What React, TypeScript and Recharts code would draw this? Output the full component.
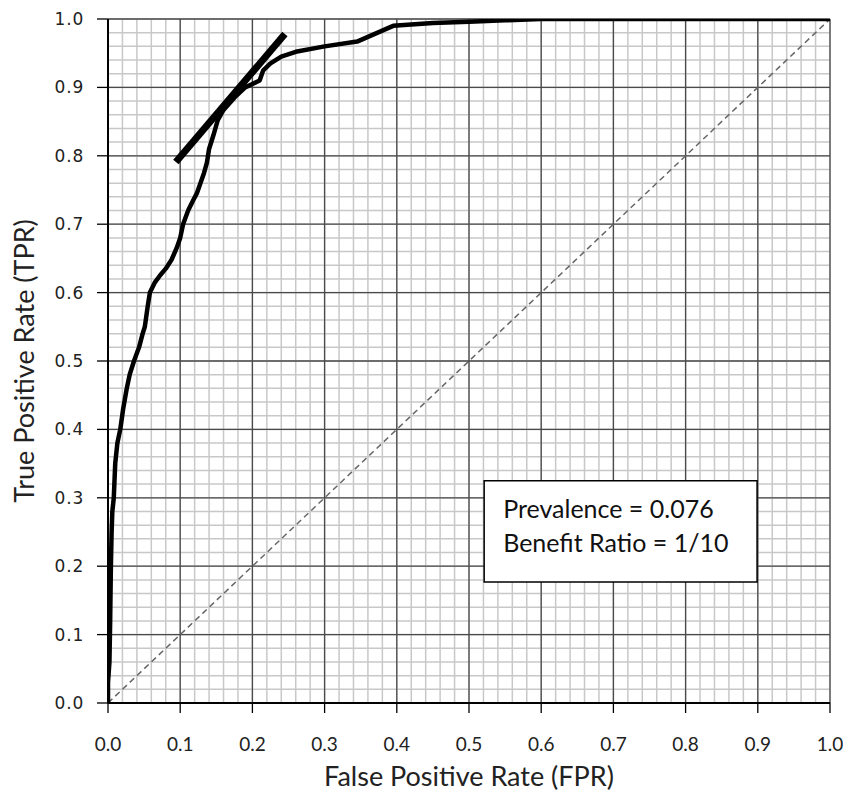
import React from 'react';
import {
  ComposedChart,
  Line,
  XAxis,
  YAxis,
  CartesianGrid,
  ReferenceArea,
} from 'recharts';

// ROC curve
const fpr = [
  0, 0.0, 0.002, 0.003, 0.004, 0.005, 0.006, 0.008, 0.01, 0.013, 0.017, 0.021, 0.026, 0.03,
  0.036, 0.043, 0.048, 0.051, 0.055, 0.058, 0.065, 0.072, 0.08, 0.088, 0.095, 0.1, 0.104,
  0.111, 0.118, 0.123, 0.128, 0.133, 0.137, 0.14, 0.146, 0.152, 0.16, 0.175, 0.19, 0.2, 0.21,
  0.215, 0.225, 0.24, 0.26, 0.3, 0.345, 0.395, 0.45, 0.5, 0.55, 0.6, 1.0,
];
const tpr = [
  0, 0.03, 0.06, 0.12, 0.2, 0.25, 0.28, 0.3, 0.35, 0.38, 0.4, 0.43, 0.46, 0.48,
  0.5, 0.52, 0.54, 0.55, 0.58, 0.6, 0.615, 0.625, 0.635, 0.648, 0.665, 0.68, 0.7,
  0.72, 0.735, 0.745, 0.76, 0.775, 0.79, 0.81, 0.83, 0.852, 0.867, 0.885, 0.9, 0.905, 0.91,
  0.925, 0.935, 0.945, 0.952, 0.96, 0.967, 0.99, 0.994, 0.996, 0.998, 1.0, 1.0,
];

// tangent line at the optimal operating point
const tangentX = [0.094, 0.245];
const tangentY = [0.791, 0.978];

// chance diagonal
const diagX = [0, 1];
const diagY = [0, 1];

const majorTicks = [0, 0.1, 0.2, 0.3, 0.4, 0.5, 0.6, 0.7, 0.8, 0.9, 1.0];
const noteLines = ['Prevalence = 0.076', 'Benefit Ratio = 1/10'];

const rocData = fpr.map((x, i) => ({ x, y: tpr[i] }));
const tangentData = tangentX.map((x, i) => ({ x, y: tangentY[i] }));
const diagData = diagX.map((x, i) => ({ x, y: diagY[i] }));

const minorTicks: number[] = [];
for (let i = 0; i <= 50; i++) minorTicks.push(i / 50);

const W = 843;
const H = 786;
const titleFont = 'Lato, "Open Sans", sans-serif';

function mapX(p: any, v: number) {
  const s = p.xAxis && p.xAxis.scale;
  if (typeof s === 'function') return s(v);
  return p.offset.left + v * p.offset.width;
}
function mapY(p: any, v: number) {
  const s = p.yAxis && p.yAxis.scale;
  if (typeof s === 'function') return s(v);
  return p.offset.top + (1 - v) * p.offset.height;
}

export default function App() {
  return (
    <div style={{ width: W, height: H }}>
      <ComposedChart width={W} height={H} margin={{ top: 11, right: 21, bottom: 0, left: 0 }}>
        <CartesianGrid
          stroke="#c8c8c8"
          strokeWidth={1.5}
          verticalCoordinatesGenerator={(p: any) => minorTicks.map((v) => mapX(p, v))}
          horizontalCoordinatesGenerator={(p: any) => minorTicks.map((v) => mapY(p, v))}
        />
        <CartesianGrid stroke="#4a4a4a" strokeWidth={1.3} />
        <XAxis
          type="number"
          dataKey="x"
          domain={[0, 1]}
          ticks={majorTicks}
          tickFormatter={(v: number) => v.toFixed(1)}
          allowDataOverflow
          height={91}
          tickSize={10}
          tickMargin={25}
          axisLine={{ stroke: '#000', strokeWidth: 2 }}
          tickLine={{ stroke: '#000', strokeWidth: 1.3 }}
          tick={{ fill: '#222', fontSize: 19, fontFamily: titleFont }}
          label={{
            content: (props: any) => {
              const vb = props.viewBox;
              return (
                <text
                  x={vb.x + vb.width / 2}
                  y={767}
                  textAnchor="middle"
                  dominantBaseline="central"
                  fill="#222"
                  fontSize={27}
                  fontFamily={titleFont}
                >
                  False Positive Rate (FPR)
                </text>
              );
            },
          }}
        />
        <YAxis
          type="number"
          dataKey="y"
          domain={[0, 1]}
          ticks={majorTicks}
          tickFormatter={(v: number) => v.toFixed(1)}
          allowDataOverflow
          width={100}
          tickSize={11}
          tickMargin={13}
          axisLine={{ stroke: '#000', strokeWidth: 2 }}
          tickLine={{ stroke: '#000', strokeWidth: 1.3 }}
          tick={{
            fill: '#222',
            fontSize: 17,
            letterSpacing: 0.8,
            fontFamily: '"DejaVu Sans", Verdana, sans-serif',
          }}
          label={{
            content: (props: any) => {
              const vb = props.viewBox;
              const cy = vb.y + vb.height / 2;
              return (
                <text
                  x={15}
                  y={cy}
                  transform={`rotate(-90, 15, ${cy})`}
                  textAnchor="middle"
                  dominantBaseline="central"
                  fill="#222"
                  fontSize={27}
                  fontFamily={titleFont}
                >
                  True Positive Rate (TPR)
                </text>
              );
            },
          }}
        />
        <ReferenceArea
          x1={0.521}
          x2={0.899}
          y1={0.177}
          y2={0.325}
          fill="#fff"
          fillOpacity={1}
          stroke="#000"
          strokeWidth={1.5}
          label={{
            content: (props: any) => {
              const vb = props.viewBox;
              return (
                <g>
                  {noteLines.map((t, i) => (
                    <text
                      key={t}
                      x={vb.x + 19}
                      y={vb.y + 27 + i * 34}
                      dominantBaseline="central"
                      fill="#111"
                      fontSize={25}
                      fontFamily={titleFont}
                    >
                      {t}
                    </text>
                  ))}
                </g>
              );
            },
          }}
        />
        <Line
          data={diagData}
          dataKey="y"
          type="linear"
          stroke="#666"
          strokeWidth={1.5}
          strokeDasharray="6 4"
          dot={false}
          activeDot={false}
          isAnimationActive={false}
        />
        <Line
          data={rocData}
          dataKey="y"
          type="linear"
          stroke="#000"
          strokeWidth={4.5}
          strokeLinejoin="round"
          dot={false}
          activeDot={false}
          isAnimationActive={false}
        />
        <Line
          data={tangentData}
          dataKey="y"
          type="linear"
          stroke="#000"
          strokeWidth={7}
          strokeLinecap="butt"
          dot={false}
          activeDot={false}
          isAnimationActive={false}
        />
      </ComposedChart>
    </div>
  );
}
